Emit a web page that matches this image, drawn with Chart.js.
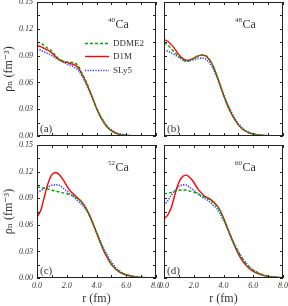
<!DOCTYPE html>
<html><head><meta charset="utf-8">
<script src="https://cdn.jsdelivr.net/npm/chart.js@4"></script>
<style>
html,body{margin:0;padding:0;background:#fff;}
#wrap{position:relative;width:288px;height:306px;overflow:hidden;background:#fff;}
canvas{position:absolute;left:0;top:0;}
</style></head><body>
<div id="wrap">
<canvas id="c0" width="288" height="306"></canvas>
<canvas id="c1" width="288" height="306"></canvas>
<canvas id="c2" width="288" height="306"></canvas>
<canvas id="c3" width="288" height="306"></canvas>
</div>
<script>
// ---- data ----
const r = [0,0.25,0.5,0.75,1,1.25,1.5,1.75,2,2.25,2.5,2.75,3,3.25,3.5,3.75,4,4.25,4.5,4.75,5,5.25,5.5,5.75,6,6.5,7,7.5,8];
const seriesNames = ['DDME2','D1M','SLy5'];
const nuclei = ['40','48','52','60'];
const element = 'Ca';
const panelTags = ['(a)','(b)','(c)','(d)'];
const xTickLabels = ['0.0','2.0','4.0','6.0','8.0'];
const yTickLabels = ['0.00','0.03','0.06','0.09','0.12','0.15'];
const xTitle = 'r (fm)';
const yTitle = 'ρₙ (fm⁻³)';

// 40Ca
const ddme2_40 = [.105,.104,.101,.098,.095,.090,.086,.084,.083,.0825,.082,.079,.071,.063,.053,.042,.031,.022,.015,.0095,.006,.0036,.0021,.0012,.0007,.0002,.0001,0,0];
const d1m_40   = [.101,.100,.098,.096,.093,.089,.0855,.083,.0825,.081,.080,.077,.070,.062,.052,.042,.031,.022,.015,.0095,.006,.0036,.0021,.0012,.0007,.0002,.0001,0,0];
const sly5_40  = [.097,.096,.094,.092,.090,.087,.085,.083,.0806,.079,.077,.074,.068,.060,.051,.041,.031,.023,.016,.0105,.0068,.0042,.0025,.0015,.0009,.0003,.0001,0,0];
// 48Ca
const ddme2_48 = [.104,.102,.0975,.093,.089,.0855,.0838,.0845,.0868,.0893,.0908,.0905,.087,.080,.070,.058,.046,.035,.026,.0185,.0125,.0083,.0054,.0034,.0022,.0008,.0003,.0001,0];
const d1m_48   = [.108,.106,.102,.097,.091,.087,.0848,.0852,.0872,.0893,.0905,.090,.0865,.080,.070,.058,.046,.035,.026,.0185,.0125,.0082,.0053,.0033,.0021,.0008,.0003,.0001,0];
const sly5_48  = [.096,.095,.093,.0905,.088,.0855,.0838,.0843,.0855,.0866,.0872,.0865,.083,.077,.068,.058,.047,.037,.028,.020,.0138,.0092,.006,.0038,.0024,.0009,.0003,.0001,0];
// 52Ca
const ddme2_52 = [.1026,.102,.1015,.1003,.099,.098,.097,.096,.095,.0935,.092,.089,.0855,.080,.072,.062,.051,.041,.031,.023,.016,.011,.0077,.0053,.0036,.0017,.0008,.0003,.0001];
const d1m_52   = [.069,.076,.092,.107,.1165,.119,.1165,.111,.104,.098,.094,.090,.086,.080,.072,.062,.051,.040,.030,.022,.015,.0105,.0072,.005,.0034,.0016,.0007,.0003,.0001];
const sly5_52  = [.097,.0985,.101,.103,.1045,.105,.1045,.1015,.098,.0945,.091,.087,.083,.078,.071,.062,.052,.042,.033,.025,.018,.0125,.0085,.0057,.0038,.0017,.0007,.0003,.0001];
// 60Ca
const ddme2_60 = [.095,.0955,.0965,.098,.099,.0993,.099,.098,.097,.095,.093,.091,.089,.086,.082,.076,.067,.057,.047,.037,.029,.022,.0165,.012,.0088,.0045,.0022,.001,.0004];
const d1m_60   = [.067,.071,.080,.095,.108,.1145,.116,.113,.108,.101,.096,.092,.090,.087,.083,.077,.068,.057,.046,.036,.027,.020,.0145,.0105,.0075,.0038,.0018,.0008,.0003];
const sly5_60  = [.082,.087,.0937,.099,.103,.105,.1048,.102,.099,.0955,.092,.0895,.087,.083,.079,.073,.065,.056,.047,.038,.030,.023,.017,.0125,.009,.0045,.002,.0009,.0003];

const panelData = [
  [ddme2_40, d1m_40, sly5_40],
  [ddme2_48, d1m_48, sly5_48],
  [ddme2_52, d1m_52, sly5_52],
  [ddme2_60, d1m_60, sly5_60]
];

// ---- styles ----
const seriesStyle = [
  {color:'#00a800', dash:[3,2], width:1.4},
  {color:'#ff0000', dash:[], width:1.4},
  {color:'#3030ff', dash:[1.2,1.4], width:1.6}
];
const SERIF = "'Liberation Serif', 'DejaVu Serif', serif";
const TXT = '#333';

const panelPlugin = {
  id: 'panelDecor',
  afterDatasetsDraw(chart, args, opts) {
    const {ctx, chartArea: a, scales} = chart;
    const x = scales.x, y = scales.y;
    ctx.save();
    ctx.strokeStyle = '#222';
    ctx.lineWidth = 1;
    ctx.setLineDash([]);
    ctx.strokeRect(a.left + 0.5, a.top + 0.5, a.right - a.left - 1, a.bottom - a.top - 1);
    const tl = 3;
    ctx.beginPath();
    x.ticks.forEach(t => {
      const px = Math.round(x.getPixelForValue(t.value)) + 0.5;
      ctx.moveTo(px, a.bottom); ctx.lineTo(px, a.bottom - tl);
      ctx.moveTo(px, a.top); ctx.lineTo(px, a.top + tl);
    });
    y.ticks.forEach(t => {
      const py = Math.round(y.getPixelForValue(t.value)) + 0.5;
      ctx.moveTo(a.left, py); ctx.lineTo(a.left + tl, py);
      ctx.moveTo(a.right, py); ctx.lineTo(a.right - tl, py);
    });
    ctx.stroke();
    // nucleus label
    const p = opts.panel;
    ctx.fillStyle = TXT;
    ctx.textBaseline = 'alphabetic';
    ctx.textAlign = 'left';
    ctx.font = '7px ' + SERIF;
    const nx = a.left + 71;
    ctx.fillText(nuclei[p], nx, a.top + 20);
    const w = ctx.measureText(nuclei[p]).width;
    ctx.font = '12px ' + SERIF;
    ctx.fillText(element, nx + w + 0.5, a.top + 26);
    // panel tag
    ctx.font = '11px ' + SERIF;
    ctx.fillText(panelTags[p], a.left + 3, a.bottom - 4);
    // legend
    if (opts.legend) {
      chart.data.datasets.forEach((ds, i) => {
        const ly = Math.round(a.top + 41 + i * 13.3) + 0.5;
        ctx.strokeStyle = ds.borderColor;
        ctx.lineWidth = ds.borderWidth;
        ctx.setLineDash(ds.borderDash || []);
        ctx.beginPath();
        ctx.moveTo(a.left + 48, ly); ctx.lineTo(a.left + 72, ly);
        ctx.stroke();
        ctx.setLineDash([]);
        ctx.fillStyle = TXT;
        ctx.font = '9px ' + SERIF;
        ctx.textBaseline = 'middle';
        ctx.fillText(ds.label, a.left + 76, ly);
      });
    }
    ctx.restore();
  }
};

function makeChart(p) {
  const isLeft = p % 2 === 0, isBottom = p >= 2;
  const area = {l: isLeft ? 37 : 164, t: isBottom ? 145 : 2, r: isLeft ? 156 : 283, b: isBottom ? 278 : 136};
  const yW = isLeft ? 37 : 0;
  const xH = isBottom ? 28 : 0;
  const datasets = panelData[p].map((vals, i) => ({
    label: seriesNames[i],
    data: r.map((rv, k) => ({x: rv, y: vals[k]})),
    borderColor: seriesStyle[i].color,
    borderDash: seriesStyle[i].dash,
    borderWidth: seriesStyle[i].width,
    pointRadius: 0,
    fill: false,
    cubicInterpolationMode: 'monotone'
  }));
  const zeroPad = s => { s.paddingLeft = 0; s.paddingRight = 0; s.paddingTop = 0; s.paddingBottom = 0; };
  return new Chart(document.getElementById('c' + p), {
    type: 'line',
    data: {datasets},
    options: {
      responsive: false, animation: false, devicePixelRatio: 1,
      layout: {padding: {left: area.l - yW, top: area.t, right: 288 - area.r, bottom: 306 - area.b - xH}},
      plugins: {legend: {display: false}, tooltip: {enabled: false}, panelDecor: {panel: p, legend: p === 0}},
      scales: {
        x: {
          type: 'linear', min: 0, max: 8,
          grid: {display: false, drawTicks: false}, border: {display: false},
          ticks: {display: isBottom, stepSize: 1, autoSkip: false, maxRotation: 0, padding: 3,
            color: TXT, font: {family: SERIF, style: 'italic', size: 8},
            callback: (v, i) => (i % 2 === 0 ? xTickLabels[i / 2] : '')},
          title: {display: isBottom, text: xTitle, color: TXT, font: {family: SERIF, size: 12}, padding: 0},
          afterFit: s => { s.height = xH; zeroPad(s); }
        },
        y: {
          type: 'linear', min: 0, max: 0.15,
          grid: {display: false, drawTicks: false}, border: {display: false},
          ticks: {display: isLeft, stepSize: 0.015, autoSkip: false, padding: 4,
            color: TXT, font: {family: SERIF, style: 'italic', size: 8},
            callback: (v, i) => (i % 2 === 0 ? yTickLabels[i / 2] : '')},
          title: {display: isLeft, text: yTitle, color: TXT, font: {family: SERIF, size: 12}, padding: {top: 2, bottom: 0}},
          afterFit: s => { s.width = yW; zeroPad(s); }
        }
      }
    },
    plugins: [panelPlugin]
  });
}
[0, 1, 2, 3].forEach(makeChart);
</script>
</body></html>
